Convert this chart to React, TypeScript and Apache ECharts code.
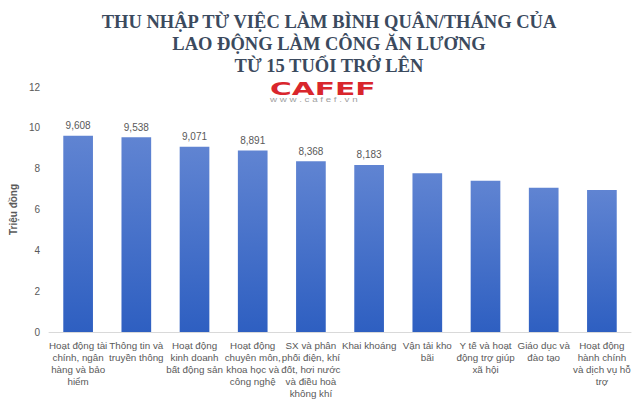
import React, { useEffect, useRef } from "react";
import * as echarts from "echarts";

const categories = [
  "Hoạt động tài\nchính, ngân\nhàng và bảo\nhiểm",
  "Thông tin và\ntruyền thông",
  "Hoạt động\nkinh doanh\nbất động sản",
  "Hoạt động\nchuyên môn,\nkhoa học và\ncông nghệ",
  "SX và phân\nphối điện, khí\nđốt, hơi nước\nvà điều hoà\nkhông khí",
  "Khai khoáng",
  "Vận tải kho\nbãi",
  "Y tế và hoạt\nđộng trợ giúp\nxã hội",
  "Giáo dục và\nđào tạo",
  "Hoạt động\nhành chính\nvà dịch vụ hỗ\ntrợ",
];
const values = [9.608, 9.538, 9.071, 8.891, 8.368, 8.183, 7.77, 7.41, 7.07, 6.95];
const labeledCount = 6;
const titleLines = [
  "THU NHẬP TỪ VIỆC LÀM BÌNH QUÂN/THÁNG CỦA",
  "LAO ĐỘNG LÀM CÔNG ĂN LƯƠNG",
  "TỪ 15 TUỔI TRỞ LÊN",
];
const yAxisName = "Triệu đồng";

export default function App() {
  const ref = useRef<HTMLDivElement>(null);
  useEffect(() => {
    if (!ref.current) return;
    const chart = echarts.init(ref.current, undefined, { renderer: "svg" });
    const fmt = (v: number) => v.toFixed(3).replace(".", ",");
    chart.setOption({
      animation: false,
      backgroundColor: "#ffffff",
      title: {
        text: titleLines.join("\n"),
        left: 324,
        textAlign: "center",
        top: 6,
        textStyle: {
          fontFamily: "Liberation Serif",
          fontWeight: "bold",
          fontSize: 18.5,
          lineHeight: 22,
          color: "#3b4a5e",
        },
      },
      graphic: [
        {
          type: "text",
          x: 270,
          y: 80,
          scaleX: 1.65,
          style: {
            text: "CAFEF",
            font: "900 18px 'DejaVu Sans'",
            fill: "#d9262c",
          },
        },
        {
          type: "text",
          x: 270,
          y: 97,
          scaleX: 1.5,
          style: {
            text: "w w w . c a f e f . v n",
            font: "6.5px 'Liberation Sans'",
            fill: "#a0a0a0",
          },
        },
      ],
      grid: { left: 46, right: 9, top: 87, bottom: 65, containLabel: false },
      xAxis: {
        type: "category",
        data: categories,
        axisTick: { show: false },
        axisLine: { lineStyle: { color: "#d9d9d9" } },
        axisLabel: {
          interval: 0,
          color: "#595959",
          fontFamily: "Liberation Sans",
          fontSize: 9.8,
          lineHeight: 12,
          margin: 7,
        },
      },
      yAxis: {
        type: "value",
        min: 0,
        max: 12,
        interval: 2,
        name: yAxisName,
        nameLocation: "middle",
        nameGap: 26,
        nameRotate: 90,
        nameTextStyle: {
          color: "#595959",
          fontFamily: "Liberation Sans",
          fontWeight: "bold",
          fontSize: 10,
        },
        splitLine: { show: false },
        axisLine: { show: false },
        axisTick: { show: false },
        axisLabel: {
          color: "#595959",
          fontFamily: "Liberation Sans",
          fontSize: 10,
          margin: 9,
        },
      },
      series: [
        {
          type: "bar",
          barWidth: "51%",
          data: values.map((v, i) => ({
            value: v,
            label: { show: i < labeledCount },
          })),
          itemStyle: {
            color: new echarts.graphic.LinearGradient(0, 0, 0, 1, [
              { offset: 0, color: "#6084d2" },
              { offset: 1, color: "#2e5fc1" },
            ]),
          },
          label: {
            position: "top",
            distance: 5,
            color: "#595959",
            fontFamily: "Liberation Sans",
            fontSize: 10,
            formatter: (p: any) => fmt(p.value),
          },
        },
      ],
    });
    return () => chart.dispose();
  }, []);
  return <div ref={ref} style={{ width: 640, height: 399, position: "absolute", left: 0, top: 0 }} />;
}
